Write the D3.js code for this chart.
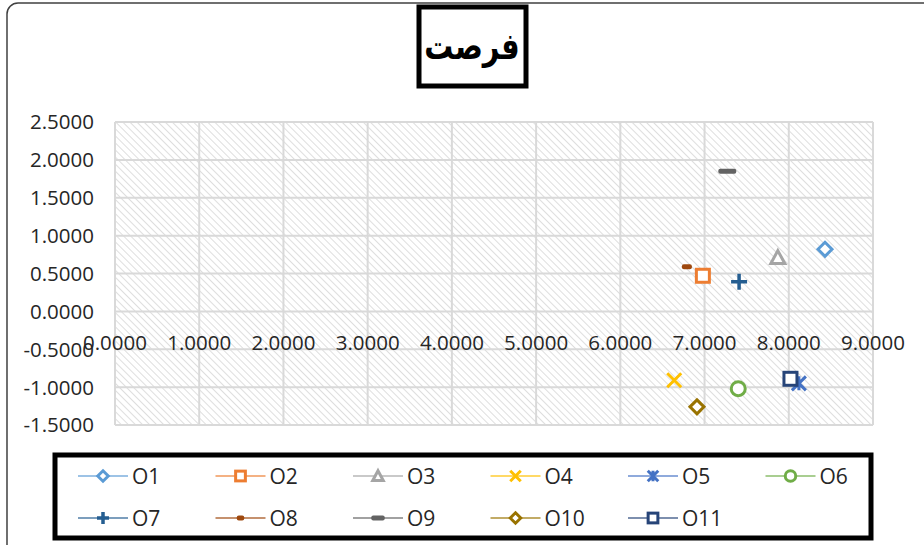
<!DOCTYPE html>
<html lang="en">

<head>
  <meta charset="UTF-8" />
  <title>فرصت</title>
  <style>
    body {
      margin: 0;
      background: #fff;
    }

    text {
      font-family: "Open Sans", sans-serif;
      fill: #262626;
    }
  </style>
</head>

<body>
  <div class="container">
    <svg width="924" height="545"></svg>
  </div>

  <script src="https://d3js.org/d3.v7.min.js"></script>
  <script>
    // 資料
    const seriesNames = ['O1', 'O2', 'O3', 'O4', 'O5', 'O6', 'O7', 'O8', 'O9', 'O10', 'O11'];
    const xValues = [8.43, 6.98, 7.87, 6.64, 8.12, 7.40, 7.41, 6.79, 7.27, 6.91, 8.02];
    const yValues = [0.82, 0.47, 0.71, -0.91, -0.95, -1.02, 0.39, 0.59, 1.85, -1.26, -0.89];
    const xTicks = [0, 1, 2, 3, 4, 5, 6, 7, 8, 9];
    const yTicks = [-1.5, -1, -0.5, 0, 0.5, 1, 1.5, 2, 2.5];

    const colors = ['#5B9BD5', '#ED7D31', '#A5A5A5', '#FFC000', '#4472C4', '#70AD47',
      '#255E91', '#9E480E', '#636363', '#997300', '#264478'];
    const shapes = ['diamond', 'square', 'triangle', 'x', 'star', 'circle',
      'plus', 'dashS', 'dashL', 'diamond', 'square'];

    const svg = d3.select('svg');

    // 外框
    svg.append('rect')
      .attr('x', 7).attr('y', 3)
      .attr('width', 940).attr('height', 560)
      .attr('rx', 11)
      .attr('fill', '#fff')
      .attr('stroke', '#404040')
      .attr('stroke-width', 1.5);

    // 斜線 pattern
    const pat = svg.append('defs').append('pattern')
      .attr('id', 'hatch')
      .attr('patternUnits', 'userSpaceOnUse')
      .attr('width', 5).attr('height', 5)
      .attr('patternTransform', 'rotate(-45)');
    pat.append('rect').attr('width', 5).attr('height', 5).attr('fill', '#fff');
    pat.append('line')
      .attr('x1', 0).attr('y1', 0).attr('x2', 0).attr('y2', 5)
      .attr('stroke', '#d4d4d4').attr('stroke-width', 1.5);

    const x = d3.scaleLinear().domain([0, 9]).range([115, 873]);
    const y = d3.scaleLinear().domain([-1.5, 2.5]).range([425, 122]);

    // 繪圖區
    svg.append('rect')
      .attr('x', x(0)).attr('y', y(2.5))
      .attr('width', x(9) - x(0)).attr('height', y(-1.5) - y(2.5))
      .attr('fill', 'url(#hatch)');

    // 格線
    svg.append('g')
      .selectAll('line')
      .data(yTicks)
      .join('line')
      .attr('x1', x(0)).attr('x2', x(9))
      .attr('y1', d => y(d)).attr('y2', d => y(d))
      .attr('stroke', '#d9d9d9').attr('stroke-width', 2);

    svg.append('g')
      .selectAll('line')
      .data(xTicks)
      .join('line')
      .attr('x1', d => x(d)).attr('x2', d => x(d))
      .attr('y1', y(2.5)).attr('y2', y(-1.5))
      .attr('stroke', '#d9d9d9').attr('stroke-width', 2);

    // y 軸標籤
    svg.append('g')
      .selectAll('text')
      .data(yTicks)
      .join('text')
      .attr('x', 94)
      .attr('y', d => y(d))
      .attr('dy', '0.36em')
      .attr('text-anchor', 'end')
      .attr('font-size', 20.5)
      .text(d => d.toFixed(4));

    // x 軸標籤 (位置在 0 線下方)
    svg.append('g')
      .selectAll('text')
      .data(xTicks)
      .join('text')
      .attr('x', d => x(d))
      .attr('y', y(0) + 31)
      .attr('dy', '0.36em')
      .attr('text-anchor', 'middle')
      .attr('font-size', 20.5)
      .text(d => d.toFixed(4));

    // marker 產生器
    function marker(g, shape, color, k) {
      const s = k || 1;
      if (shape === 'diamond') {
        g.append('path').attr('d', `M0,${-7 * s}L${7 * s},0L0,${7 * s}L${-7 * s},0Z`)
          .attr('fill', '#fff').attr('stroke', color).attr('stroke-width', 3);
      } else if (shape === 'square') {
        g.append('rect').attr('x', -6.5 * s).attr('y', -6.5 * s)
          .attr('width', 13 * s).attr('height', 13 * s)
          .attr('fill', '#fff').attr('stroke', color).attr('stroke-width', 3);
      } else if (shape === 'triangle') {
        g.append('path').attr('d', `M0,${-7 * s}L${7 * s},${6 * s}L${-7 * s},${6 * s}Z`)
          .attr('fill', '#fff').attr('stroke', color).attr('stroke-width', 3);
      } else if (shape === 'circle') {
        g.append('circle').attr('r', 7 * s)
          .attr('fill', '#fff').attr('stroke', color).attr('stroke-width', 3);
      } else if (shape === 'x') {
        g.append('path').attr('d', `M${-7 * s},${-7 * s}L${7 * s},${7 * s}M${7 * s},${-7 * s}L${-7 * s},${7 * s}`)
          .attr('stroke', color).attr('stroke-width', 3);
      } else if (shape === 'star') {
        g.append('path').attr('d', `M${-7 * s},${-7 * s}L${7 * s},${7 * s}M${7 * s},${-7 * s}L${-7 * s},${7 * s}M0,${-7 * s}L0,${7 * s}`)
          .attr('stroke', color).attr('stroke-width', 3);
      } else if (shape === 'plus') {
        g.append('path').attr('d', `M${-8 * s},0L${8 * s},0M0,${-8 * s}L0,${8 * s}`)
          .attr('stroke', color).attr('stroke-width', 3.5);
      } else if (shape === 'dashS') {
        g.append('rect').attr('x', -5 * s).attr('y', -2.5).attr('width', 10 * s).attr('height', 5)
          .attr('rx', 2).attr('fill', color);
      } else if (shape === 'dashL') {
        g.append('rect').attr('x', -9 * s).attr('y', -2.5).attr('width', 18 * s).attr('height', 5)
          .attr('rx', 2).attr('fill', color);
      }
    }

    // 資料點
    const pts = seriesNames.map((n, i) => ({ name: n, x: xValues[i], y: yValues[i], i: i }));
    svg.append('g')
      .selectAll('g')
      .data(pts)
      .join('g')
      .attr('transform', d => `translate(${x(d.x)},${y(d.y)})`)
      .each(function (d) {
        marker(d3.select(this), shapes[d.i], colors[d.i], 1);
      });

    // 標題
    svg.append('rect')
      .attr('x', 419).attr('y', 7)
      .attr('width', 107).attr('height', 79)
      .attr('fill', '#fff').attr('stroke', '#000').attr('stroke-width', 5);
    svg.append('text')
      .attr('transform', 'translate(472,46) scale(0.78,1)')
      .attr('dy', '0.35em')
      .attr('text-anchor', 'middle')
      .attr('font-size', 37)
      .attr('font-weight', 'bold')
      .style('font-family', '"DejaVu Sans", sans-serif')
      .style('fill', '#000')
      .text('فرصت');

    // 圖例
    svg.append('rect')
      .attr('x', 55).attr('y', 455)
      .attr('width', 816).attr('height', 83)
      .attr('fill', '#fff').attr('stroke', '#000').attr('stroke-width', 5);

    const leg = svg.append('g')
      .selectAll('g')
      .data(pts)
      .join('g')
      .attr('transform', d => `translate(${103 + (d.i % 6) * 137.5},${d.i < 6 ? 476 : 518})`);
    leg.append('line')
      .attr('x1', -25).attr('x2', 25)
      .attr('stroke', d => colors[d.i])
      .attr('stroke-opacity', 0.6)
      .attr('stroke-width', 2);
    leg.each(function (d) {
      marker(d3.select(this), shapes[d.i], colors[d.i], 0.75);
    });
    leg.append('text')
      .attr('x', 29)
      .attr('dy', '0.36em')
      .attr('font-size', 21)
      .text(d => d.name);
  </script>
</body>

</html>
